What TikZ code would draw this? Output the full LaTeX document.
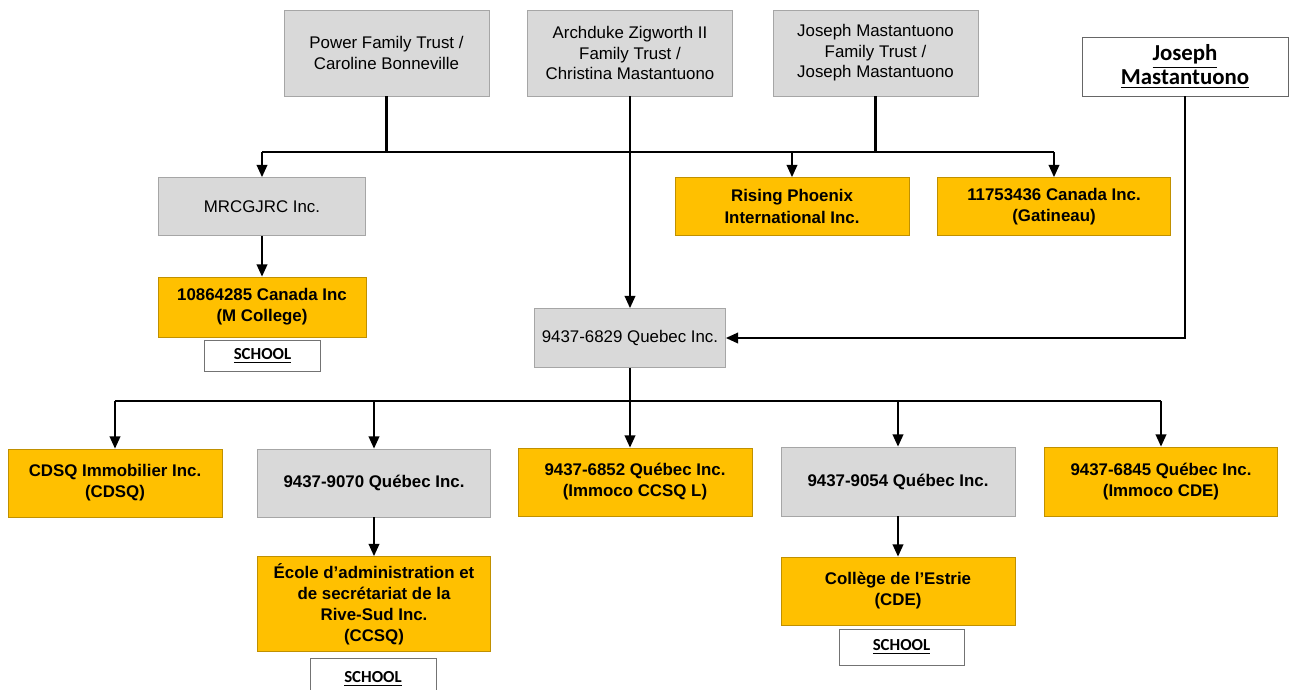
\documentclass[tikz,border=0pt]{standalone}
\usepackage{fontspec}
\setmainfont{Liberation Sans}
\newfontfamily\calibri{Carlito}
\usetikzlibrary{arrows.meta,calc}

\definecolor{boxgrey}{HTML}{D9D9D9}
\definecolor{edgegrey}{HTML}{A6A6A6}
\definecolor{gold}{HTML}{FFC000}
\definecolor{edgegold}{HTML}{C09000}

\begin{document}
\begin{tikzpicture}[
      x=0.02cm, y=-0.02cm,
      box/.style 2 args = {
        inner sep=0pt,
        align=center,
        minimum width=#1*0.02cm,
        minimum height=#2*0.02cm
      },
      grey/.style = {
        fill=boxgrey,
        draw=edgegrey,
        font=\fontsize{9.6}{11.6}\selectfont
      },
      greybold/.style = {
        grey,
        font=\fontsize{9.6}{11.6}\selectfont\bfseries
      },
      gold/.style = {
        fill=gold,
        draw=edgegold,
        font=\fontsize{9.6}{12}\selectfont\bfseries
      },
      person/.style = {
        fill=white,
        draw=black!60,
        font=\calibri\fontsize{13}{13.5}\selectfont\bfseries
      },
      school/.style = {
        fill=white,
        draw=black!55,
        font=\calibri\fontsize{9.6}{11}\selectfont\bfseries
      },
      bus/.style = {
        line width=1.5pt
      },
      link/.style = {
        line width=1.2pt
      },
      arc/.style = {
        link,
        -{Triangle[length=7pt,width=6pt]}
      }
    ]
    \path[use as bounding box] (0,0) rectangle (1289,690);
    \clip (0,0) rectangle (1289,690);

    % owners
    \node[grey,box={205}{86}] (pft) at (386.5,53) {Power Family Trust /\\Caroline Bonneville};
    \node[grey,box={205}{86}] (adz) at (630,53) {Archduke Zigworth II\\Family Trust /\\Christina Mastantuono};
    \node[grey,box={205}{86}] (jmft) at (875.5,53) {Joseph Mastantuono\\Family Trust /\\Joseph Mastantuono};
    \node[person,box={206}{59}] (jm) at (1185,66.5) {\underline{Joseph}\\\underline{Mastantuono}};

    % second row
    \node[grey,box={207}{58}] (mrc) at (262,206.5) {MRCGJRC Inc.};
    \node[gold,box={234}{58}] (rpi) at (792,206.5) {Rising Phoenix\\International Inc.};
    \node[gold,box={233}{58}] (gat) at (1054,206.5) {11753436 Canada Inc.\\(Gatineau)};

    \node[gold,box={208}{60}] (mcol) at (262,307) {10864285 Canada Inc\\(M College)};
    \node[school,box={116}{31}] (sch1) at (262.5,356) {\underline{SCHOOL}};

    \node[grey,box={191}{59}] (q6829) at (630,338) {9437-6829 Quebec Inc.};

    % subsidiaries
    \node[gold,box={214}{68}] (cdsq) at (115,483) {CDSQ Immobilier Inc.\\(CDSQ)};
    \node[greybold,box={233}{68}] (q9070) at (374,483) {9437-9070 Québec Inc.};
    \node[gold,box={234}{68}] (q6852) at (635,482) {9437-6852 Québec Inc.\\(Immoco CCSQ L)};
    \node[greybold,box={234}{69}] (q9054) at (898,481.5) {9437-9054 Québec Inc.};
    \node[gold,box={233}{69}] (q6845) at (1161,481.5) {9437-6845 Québec Inc.\\(Immoco CDE)};

    \node[gold,box={233}{95}] (ecole) at (374,604) {École d’administration et\\de secrétariat de la\\Rive-Sud Inc.\\(CCSQ)};
    \node[school,box={126}{42}] (sch2) at (373,679) {\underline{SCHOOL}};
    \node[gold,box={234}{68}] (cde) at (898,591) {Collège de l’Estrie\\(CDE)};
    \node[school,box={125}{36}] (sch3) at (901.5,647) {\underline{SCHOOL}};

    % upper bus
    \coordinate (topbus) at (0,152);
    \draw[link] (pft.south) -- (pft.south |- topbus);
    \draw[link] (jmft.south) -- (jmft.south |- topbus);
    \draw[bus] (mrc.north |- topbus) -- (gat.north |- topbus);
    \draw[arc] (mrc.north |- topbus) -- (mrc.north);
    \draw[arc] (rpi.north |- topbus) -- (rpi.north);
    \draw[arc] (gat.north |- topbus) -- (gat.north);

    \draw[arc] (adz.south) -- (q6829.north);
    \draw[arc] (jm.south) |- (q6829.east);
    \draw[arc] (mrc.south) -- (mcol.north);

    % lower bus
    \coordinate (lowbus) at (0,401);
    \draw[link] (q6829.south) -- (q6829.south |- lowbus);
    \draw[bus] (cdsq.north |- lowbus) -- (q6845.north |- lowbus);
    \draw[arc] (cdsq.north |- lowbus) -- (cdsq.north);
    \draw[arc] (q9070.north |- lowbus) -- (q9070.north);
    \draw[arc] (q6829.south |- lowbus) -- (q6829.south |- q6852.north);
    \draw[arc] (q9054.north |- lowbus) -- (q9054.north);
    \draw[arc] (q6845.north |- lowbus) -- (q6845.north);

    \draw[arc] (q9070.south) -- (ecole.north);
    \draw[arc] (q9054.south) -- (cde.north);
  \end{tikzpicture}
\end{document}
